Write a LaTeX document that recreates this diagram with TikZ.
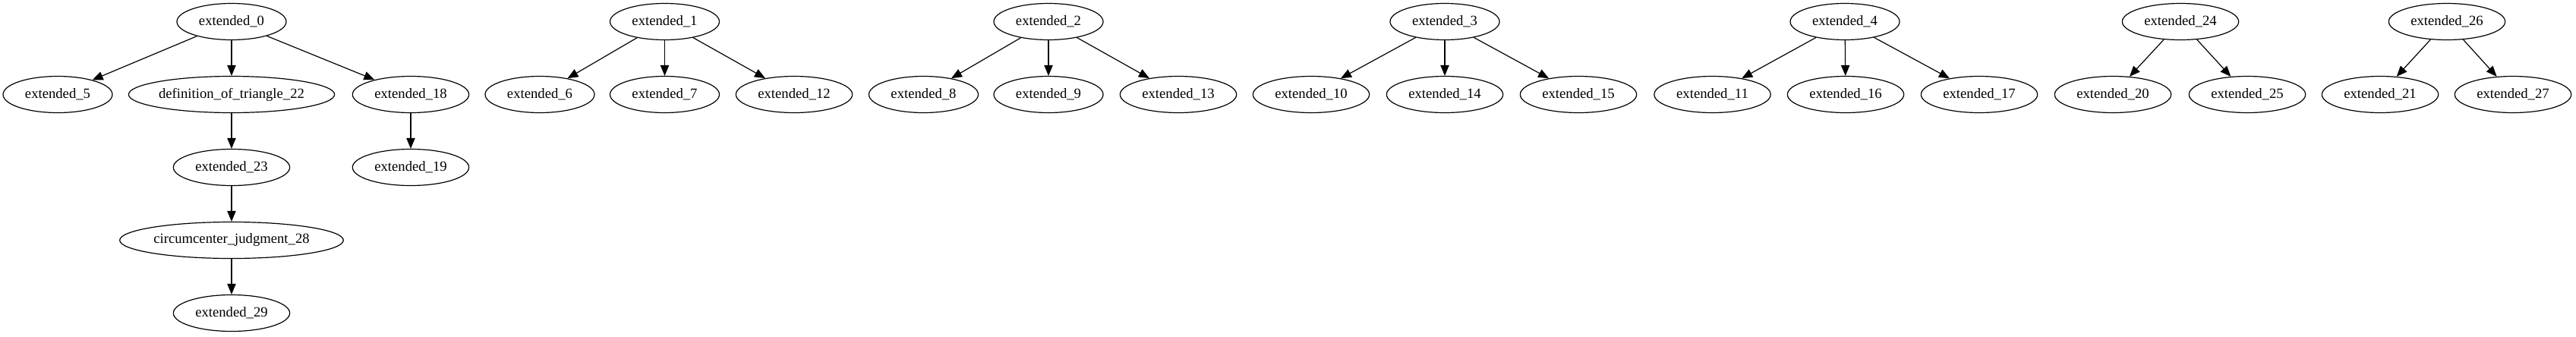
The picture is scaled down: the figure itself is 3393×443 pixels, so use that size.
\documentclass[tikz,border=0pt]{standalone}
\usepackage{fontspec}
\setmainfont{Liberation Serif}
\usepackage{tikz}
\usetikzlibrary{shapes}
\usetikzlibrary{arrows.meta}

\begin{document}
\begin{tikzpicture}[x=0.75pt, y=-0.75pt,
  goal/.style={ellipse, draw, line width=0.9pt, inner sep=0pt, minimum height=36pt,
    font=\fontsize{14}{16}\selectfont},
  short/.style={goal, minimum width=108pt},
  long/.style={goal, minimum width=115pt},
  link/.style={-{Triangle[length=10.5pt, width=8.5pt]}, line width=0.9pt}]
  \useasboundingbox (0,0) rectangle (3393,443);

  % row 0
  \node[short] (e0)  at (305,28.5)    {extended\_0};
  \node[short] (e1)  at (875.5,28.5)  {extended\_1};
  \node[short] (e2)  at (1381,28.5)   {extended\_2};
  \node[short] (e3)  at (1903,28.5)   {extended\_3};
  \node[short] (e4)  at (2430,28.5)   {extended\_4};
  \node[long]  (e24) at (2872,28.5)   {extended\_24};
  \node[long]  (e26) at (3223,28.5)   {extended\_26};

  % row 1
  \node[short] (e5)    at (76,124.5)   {extended\_5};
  \node[goal, minimum width=202.5pt] (def22) at (305,124.5) {definition\_of\_triangle\_22};
  \node[long]  (e18) at (541,124.5)    {extended\_18};
  \node[short] (e6)  at (711,124.5)    {extended\_6};
  \node[short] (e7)  at (875.5,124.5)  {extended\_7};
  \node[long]  (e12) at (1046,124.5)   {extended\_12};
  \node[short] (e8)  at (1216.5,124.5) {extended\_8};
  \node[short] (e9)  at (1381,124.5)   {extended\_9};
  \node[long]  (e13) at (1552,124.5)   {extended\_13};
  \node[long]  (e10) at (1727,124.5)   {extended\_10};
  \node[long]  (e14) at (1903,124.5)   {extended\_14};
  \node[long]  (e15) at (2079,124.5)   {extended\_15};
  \node[long]  (e11) at (2255.5,124.5) {extended\_11};
  \node[long]  (e16) at (2431,124.5)   {extended\_16};
  \node[long]  (e17) at (2607,124.5)   {extended\_17};
  \node[long]  (e20) at (2783,124.5)   {extended\_20};
  \node[long]  (e25) at (2960,124.5)   {extended\_25};
  \node[long]  (e21) at (3135,124.5)   {extended\_21};
  \node[long]  (e27) at (3310,124.5)   {extended\_27};

  % rows 2-4
  \node[long] (e23) at (305,220.5) {extended\_23};
  \node[long] (e19) at (541,220.5) {extended\_19};
  \node[goal, minimum width=221pt] (circ28) at (305,316.5) {circumcenter\_judgment\_28};
  \node[long] (e29) at (305,412.5) {extended\_29};

  \draw[link] (e0) -- (e5);
  \draw[link] (e0) -- (def22);
  \draw[link] (e0) -- (e18);
  \draw[link] (def22) -- (e23);
  \draw[link] (e23) -- (circ28);
  \draw[link] (circ28) -- (e29);
  \draw[link] (e18) -- (e19);
  \draw[link] (e1) -- (e6);
  \draw[link] (e1) -- (e7);
  \draw[link] (e1) -- (e12);
  \draw[link] (e2) -- (e8);
  \draw[link] (e2) -- (e9);
  \draw[link] (e2) -- (e13);
  \draw[link] (e3) -- (e10);
  \draw[link] (e3) -- (e14);
  \draw[link] (e3) -- (e15);
  \draw[link] (e4) -- (e11);
  \draw[link] (e4) -- (e16);
  \draw[link] (e4) -- (e17);
  \draw[link] (e24) -- (e20);
  \draw[link] (e24) -- (e25);
  \draw[link] (e26) -- (e21);
  \draw[link] (e26) -- (e27);
\end{tikzpicture}
\end{document}
